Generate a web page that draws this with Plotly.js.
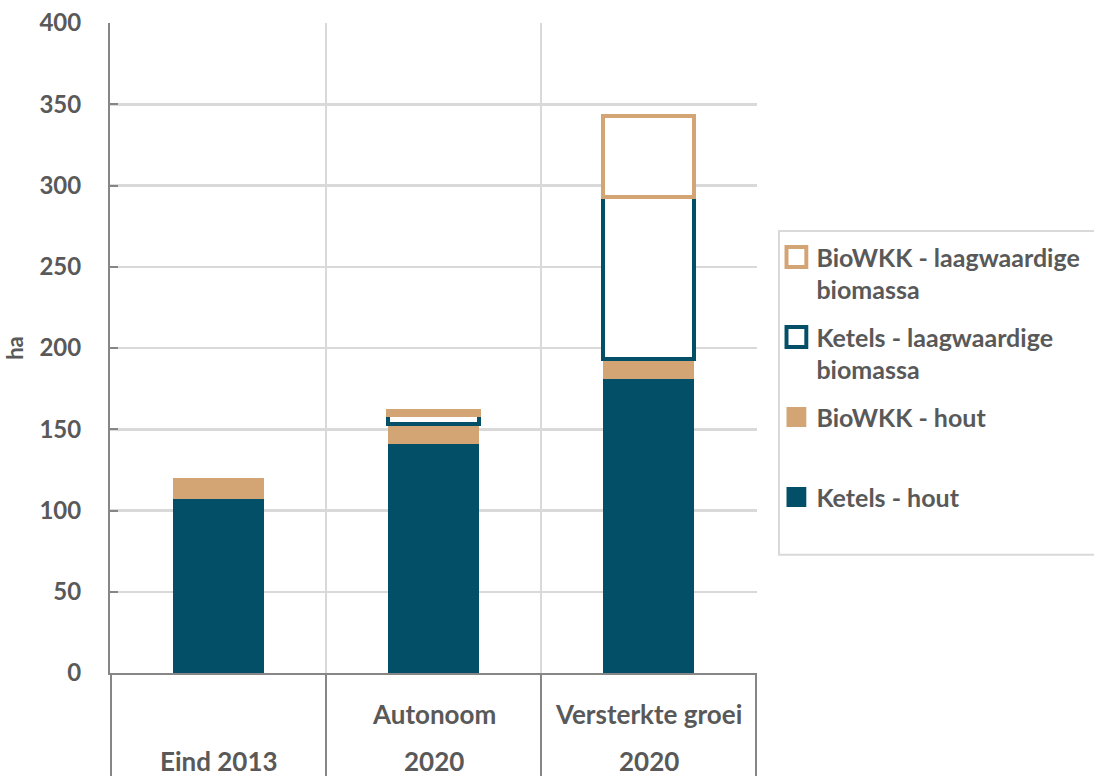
<!DOCTYPE html>
<html>
<head>
<meta charset="utf-8">
<script src="https://cdn.plot.ly/plotly-3.0.1.min.js"></script>
<style>
  html, body { margin: 0; padding: 0; background: #ffffff; }
  #chart { width: 1094px; height: 776px; }
</style>
</head>
<body>
<div id="chart"></div>
<script>
// Categories: scenario (upper label row) and year (lower label row)
const scenarios = ["", "Autonoom", "Versterkte groei"];
const years = ["Eind 2013", "2020", "2020"];
const categoryKeys = ["Eind 2013", "Autonoom 2020", "Versterkte groei 2020"];

// Area (ha) per technology, stacked from bottom to top
const ketelsHout = [107, 141, 181];
const bioWkkHout = [12, 12, 12];
const ketelsLaag = [0, 6, 100];
const bioWkkLaag = [0, 2, 50];

// Legend names; every entry takes two lines so the entries are evenly spaced
const seriesNames = [
  "Ketels - hout<br>\u00a0",
  "BioWKK - hout<br>\u00a0",
  "Ketels - laagwaardige<br>biomassa",
  "BioWKK - laagwaardige<br>biomassa"
];

const teal = "#034f67";
const tan = "#d3a574";
const textGrey = "#595959";
const gridGrey = "#d9d9d9";
const axisGrey = "#868686";
const fontFamily = "Lato, 'Open Sans', sans-serif";

const traces = [
  { y: ketelsHout, name: seriesNames[0],
    marker: { color: teal, line: { color: teal, width: 0 } } },
  { y: bioWkkHout, name: seriesNames[1],
    marker: { color: tan, line: { color: tan, width: 0 } } },
  { y: ketelsLaag, name: seriesNames[2],
    marker: { color: "#ffffff", line: { color: teal, width: 4 } } },
  { y: bioWkkLaag, name: seriesNames[3],
    marker: { color: "#ffffff", line: { color: tan, width: 4 } } }
].map((t, i, arr) => Object.assign({ type: "bar", x: categoryKeys, hoverinfo: "y+name",
  legendgroup: "g" + i, legendrank: (arr.length - i) * 10 }, t));

// Two rows of category labels under the axis
const labelFont = { family: fontFamily, size: 26, color: textGrey, weight: 700 };
const annotations = [];
categoryKeys.forEach((key, i) => {
  if (scenarios[i]) {
    annotations.push({ x: key, xref: "x", y: 0, yref: "paper", yanchor: "middle",
      yshift: -41, text: "<b>" + scenarios[i] + "</b>", showarrow: false, font: labelFont });
  }
  annotations.push({ x: key, xref: "x", y: 0, yref: "paper", yanchor: "middle",
    yshift: -88, text: "<b>" + years[i] + "</b>", showarrow: false, font: labelFont });
});

// Divider lines between the category label columns
const shapes = [];
for (let i = 0; i <= categoryKeys.length; i++) {
  shapes.push({ type: "line", xref: "x", yref: "paper", x0: i - 0.5, x1: i - 0.5,
    y0: 0, y1: -0.2, line: { color: axisGrey, width: 2 } });
}
// Legend frame
shapes.push({ type: "rect", xref: "paper", yref: "paper",
  x0: 1.034, x1: 1.6, y0: 0.182, y1: 0.68,
  line: { color: gridGrey, width: 2 }, fillcolor: "rgba(0,0,0,0)" });

const layout = {
  width: 1094, height: 776,
  margin: { l: 110, r: 337, t: 23, b: 103, autoexpand: false },
  paper_bgcolor: "#ffffff", plot_bgcolor: "#ffffff",
  font: { family: fontFamily, color: textGrey, size: 24 },
  barmode: "stack",
  bargap: 0.58,
  showlegend: true,
  legend: {
    x: 1.03, xanchor: "left", y: 0.675, yanchor: "top",
    traceorder: "grouped", valign: "top",
    tracegroupgap: 12,
    font: { family: fontFamily, size: 25, color: textGrey, weight: 700 },
    bgcolor: "rgba(0,0,0,0)", borderwidth: 0,
    itemwidth: 30
  },
  xaxis: {
    type: "category",
    showticklabels: false,
    tickson: "boundaries",
    ticks: "",
    showgrid: true, gridcolor: gridGrey, gridwidth: 2,
    showline: true, linecolor: axisGrey, linewidth: 2,
    zeroline: false,
    fixedrange: true
  },
  yaxis: {
    range: [0, 400], dtick: 50,
    showgrid: true, gridcolor: gridGrey, gridwidth: 2.5,
    showline: true, linecolor: axisGrey, linewidth: 2,
    ticks: "inside", ticklen: 8, tickcolor: axisGrey, tickwidth: 2,
    ticklabelstandoff: 22,
    tickfont: { family: fontFamily, size: 24, color: textGrey, weight: 700 },
    zeroline: false,
    title: { text: "<b>ha</b>", font: { family: fontFamily, size: 22, color: textGrey }, standoff: 10 },
    fixedrange: true
  },
  annotations: annotations,
  shapes: shapes
};

Plotly.newPlot("chart", traces, layout, { displayModeBar: false, staticPlot: true }).then(gd => {
  // Enlarge the square legend swatches
  gd.querySelectorAll(".legendpoints path").forEach(p => {
    const t = p.getAttribute("transform") || "";
    p.setAttribute("transform", t + " scale(1.65)");
    p.style.strokeWidth = "2.4px";
  });
});
</script>
</body>
</html>
